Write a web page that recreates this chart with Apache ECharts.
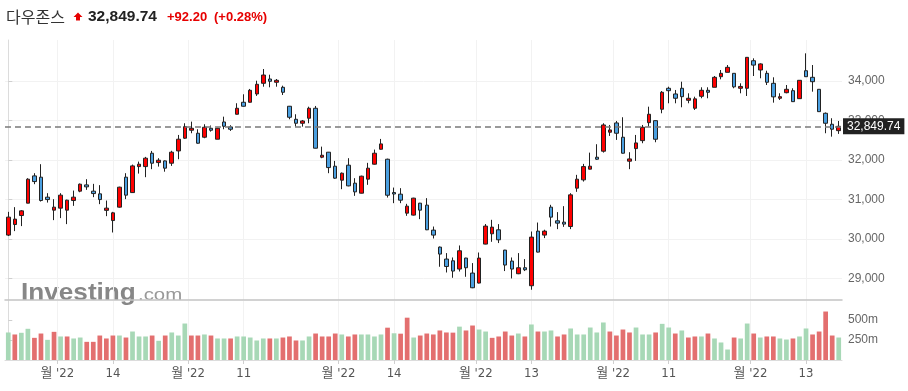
<!DOCTYPE html>
<html>
<head>
<meta charset="utf-8">
<script src="https://cdn.jsdelivr.net/npm/echarts@6/dist/echarts.min.js"></script>
<style>
html, body { margin: 0; padding: 0; background: #fff; }
#chart { width: 908px; height: 391px; }
</style>
</head>
<body>
<div id="chart"></div>
<script>
// 다우존스 일봉 (2022-06-21 ~ 2022-12-20)
var opens = [30094,30362,30590,30903,31594,31561,31055,30726,30777,30726,
  30970,31207,31366,31207,31139,30721,30463,30802,31561,31171,
  31829,31829,32168,31931,31974,31915,32226,32548,32750,32674,
  32573,32800,32523,32960,32834,33155,33459,33459,33669,33939,
  34048,33965,33838,33358,33028,32927,33054,33307,32067,32194,
  31839,31485,31865,31409,31156,31511,31890,32269,32016,31172,
  31131,30650,30600,30903,30853,30220,29790,29487,29443,29234,
  29512,29132,28879,29866,30127,30228,29714,29436,29115,29267,
  28811,30195,30094,30802,30456,30422,30311,31283,31493,31764,
  32067,32219,32700,32935,32573,31966,32285,32487,32942,32993,
  33282,33813,33669,33813,33509,33307,33610,33762,33838,34106,
  34217,34192,33813,33813,34511,34276,34192,33939,33560,33701,
  33752,33550,34258,34091,33787,33180,32902,32740];
var closes = [30549,30499,30708,31510,31450,30970,30994,30802,31106,30979,
  31055,31384,31316,31146,30994,30777,30658,31308,31106,31847,
  31890,32042,31915,31991,31789,32194,32523,32841,32800,32421,
  32826,32750,32800,32851,32775,33307,33358,33762,33914,34149,
  33990,34015,33712,33079,32927,32985,33307,32295,32117,31804,
  31536,31662,31341,31189,31586,31789,32168,32404,31104,31135,
  30979,30827,31030,30726,30228,30094,29613,29299,29183,29697,
  29267,28760,29512,30322,30296,29975,29335,29234,29267,29216,
  30043,29663,30195,30549,30397,30372,31113,31510,31829,31839,
  32016,32884,32758,32674,32168,32024,32429,32826,33155,32522,
  33712,33752,33560,33600,33560,33545,33762,33712,34091,34192,
  34344,33849,33860,34597,34400,34430,33965,33596,33600,33787,
  33474,34015,34106,33980,33221,32927,32776,32849.74];
var lows = [30070,30195,30322,30900,31384,30944,30918,30473,30524,30372,
  30835,31180,31240,31055,30878,30574,30160,30790,31005,31160,
  31652,31561,31764,31829,31700,31847,32016,32530,32674,32410,
  32548,32715,32523,32775,32733,33150,33350,33450,33620,33853,
  33838,33853,33643,33028,32841,32841,32927,32290,32042,31662,
  31520,31257,31330,31088,31150,31367,31880,32260,31045,30903,
  30903,30582,30590,30498,30220,30008,29292,29147,29013,29172,
  29038,28750,28870,29860,29924,29892,29183,28996,29105,29183,
  28710,29655,30018,30311,30245,30303,30245,31190,31450,31760,
  31999,32184,32606,32505,32160,31764,31974,32421,32841,32446,
  33180,33433,33433,33332,33433,33264,33560,33560,33838,34040,
  34217,33813,33686,33618,34124,34066,33896,33449,33517,33686,
  33470,33545,34100,33727,33215,32674,32588,32657];
var highs = [30683,30802,30726,31536,31662,31890,31156,31004,31156,30990,
  31222,31400,31510,31392,31359,30969,30683,31320,31662,31880,
  31956,32075,32226,32042,31985,32230,32631,32927,32968,32775,
  32902,32870,32810,33094,32877,33434,33661,33796,34005,34301,
  34157,34048,33879,33365,33155,33010,33347,33365,32335,32200,
  31973,31680,32042,31536,31600,31924,32260,32530,32030,31298,
  31283,30886,31040,30910,31030,30311,29805,29638,29527,29831,
  29520,29385,29653,30374,30481,30372,29720,29527,29638,29486,
  30185,30412,30230,30861,30676,30827,31156,31620,31898,32183,
  32396,32927,32884,32985,33079,32194,32631,32884,33347,33000,
  33744,33853,33770,33980,33686,33600,33838,33838,34124,34276,
  34402,34192,33939,34600,34572,34445,34258,34091,33686,33896,
  33813,34020,34698,34402,33790,33200,33054,32985];
// 거래량 (백만)
var volumes = [344,319,340,390,277,331,252,352,294,294,
  269,281,227,227,306,269,306,306,281,356,
  294,294,306,240,306,344,306,456,306,306,
  319,306,269,269,269,294,294,281,244,269,
  269,269,281,294,244,244,294,331,294,294,
  331,319,294,319,319,319,294,319,404,334,
  329,529,281,306,331,319,369,344,342,417,
  369,431,381,356,277,294,356,306,331,294,
  444,356,356,369,294,319,394,319,319,406,
  344,469,356,306,381,344,406,319,319,344,
  452,406,331,369,281,294,294,331,269,219,
  131,281,269,456,331,281,294,294,269,256,
  269,294,394,319,356,606,306,281];
var xTickIdx = [7.5, 16, 27.5, 36, 50.5, 59, 71.5, 80, 92.5, 101, 113.5, 122];
var xTickText = ["월 '22", "14", "월 '22", "11", "월 '22", "14", "월 '22", "13", "월 '22", "11", "월 '22", "13"];
var priceTicks = [29000, 30000, 31000, 32000, 33000, 34000];
var volTicks = [250, 500];

var chart = echarts.init(document.getElementById('chart'), null, {renderer: 'canvas'});

function comma(v, d) {
	var s = v.toFixed(d || 0).split('.');
	s[0] = s[0].replace(/\B(?=(\d{3})+(?!\d))/g, ',');
	return s.join('.');
}

var candleData = closes.map(function (c, i) {
	return [i, opens[i], c, lows[i], highs[i]];
});
// 거래량 색: 전일 종가 대비
var volData = volumes.map(function (v, i) {
	var up = i === 0 || closes[i] >= closes[i - 1];
	return {value: [i, v], itemStyle: {color: up ? '#a7d8b6' : '#e36f6f'}};
});
var lastClose = closes[closes.length - 1];

var gridL = 5, gridR = 66;
var labelFont = "'Liberation Sans Narrow', 'DejaVu Sans Condensed', 'Noto Sans CJK KR', sans-serif";

var option = {
	animation: false,
	grid: [
		{left: gridL, right: gridR, top: 40, bottom: 91},
		{left: gridL, right: gridR, top: 301, bottom: 31}
	],
	xAxis: [
		{
			type: 'value', gridIndex: 0, min: -0.5, max: 127.5,
			axisLine: {show: true, onZero: false, lineStyle: {color: '#c4c4c4', width: 1.5}},
			axisTick: {show: false, customValues: xTickIdx},
			axisLabel: {show: false},
			splitLine: {show: true, lineStyle: {color: '#f2f2f2'}}
		},
		{
			type: 'value', gridIndex: 1, min: -0.5, max: 127.5,
			axisLine: {show: true, onZero: false, lineStyle: {color: '#dcdcdc'}},
			axisTick: {show: true, length: 4, customValues: xTickIdx, lineStyle: {color: '#cfcfcf'}},
			axisLabel: {
				customValues: xTickIdx, margin: 7, color: '#555', fontSize: 13, fontFamily: labelFont,
				formatter: function (v) { return xTickText[xTickIdx.indexOf(v)]; }
			},
			splitLine: {show: true, lineStyle: {color: '#f2f2f2'}}
		}
	],
	yAxis: [
		{
			type: 'value', gridIndex: 0, position: 'right', min: 28450, max: 35036,
			axisLine: {show: true, lineStyle: {color: '#dcdcdc'}},
			axisTick: {show: true, length: 4, customValues: priceTicks, lineStyle: {color: '#cfcfcf'}},
			axisLabel: {
				customValues: priceTicks, margin: 6, color: '#666', fontSize: 12, fontFamily: 'Arial',
				formatter: function (v) { return comma(v); }
			},
			splitLine: {show: true, lineStyle: {color: '#f2f2f2'}}
		},
		{
			type: 'value', gridIndex: 1, position: 'right', min: 0, max: 737.5,
			axisLine: {show: true, lineStyle: {color: '#dcdcdc'}},
			axisTick: {show: true, length: 4, customValues: volTicks, lineStyle: {color: '#cfcfcf'}},
			axisLabel: {
				customValues: volTicks, margin: 6, color: '#666', fontSize: 12, fontFamily: 'Arial',
				formatter: function (v) { return v + 'm'; }
			},
			splitLine: {show: false}
		}
	],
	graphic: [
		// 워터마크
		{type: 'text', silent: true, z: -10, x: 21, y: 305, scaleX: 1.09,
			style: {text: 'Investing', font: 'bold 24px Arial', fill: '#878787', verticalAlign: 'bottom'}},
		{type: 'text', silent: true, z: -10, x: 138, y: 303.5, scaleX: 1.2,
			style: {text: '.com', font: '17px Arial', fill: '#999', verticalAlign: 'bottom'}},
		// 헤더
		{type: 'text', x: 6, y: 17, style: {text: '다우존스', font: "16px 'Noto Sans CJK KR'", fill: '#333', verticalAlign: 'middle'}},
		{type: 'polygon', shape: {points: [[78, 12.5], [82.5, 17], [80, 17], [80, 20.5], [76, 20.5], [76, 17], [73.5, 17]]},
			style: {fill: '#e60000'}},
		{type: 'text', x: 88, y: 17, style: {text: '32,849.74', font: 'bold 15.5px Arial', fill: '#222', verticalAlign: 'middle'}},
		{type: 'text', x: 167, y: 17, style: {text: '+92.20', font: 'bold 13px Arial', fill: '#e60000', verticalAlign: 'middle'}},
		{type: 'text', x: 214, y: 17, style: {text: '(+0.28%)', font: 'bold 13px Arial', fill: '#e60000', verticalAlign: 'middle'}}
	],
	series: [
		{
			name: '다우존스',
			type: 'candlestick',
			xAxisIndex: 0, yAxisIndex: 0,
			barWidth: 4,
			data: candleData,
			itemStyle: {
				color: '#ff0000', color0: '#4a9fe0',
				borderColor: '#222', borderColor0: '#222', borderWidth: 1
			},
			markLine: {
				silent: true,
				symbol: ['none', 'none'],
				lineStyle: {color: '#7a7a7a', type: [6, 4], width: 1.5},
				label: {
					position: 'end', distance: 1, color: '#fff', backgroundColor: '#222',
					padding: [2, 4], fontSize: 12, fontFamily: 'Arial',
					formatter: function (p) { return comma(p.value, 2); }
				},
				data: [{yAxis: lastClose}]
			}
		},
		{
			name: '거래량',
			type: 'bar',
			xAxisIndex: 1, yAxisIndex: 1,
			barWidth: '72%',
			data: volData
		}
	]
};
chart.setOption(option);
</script>
</body>
</html>
